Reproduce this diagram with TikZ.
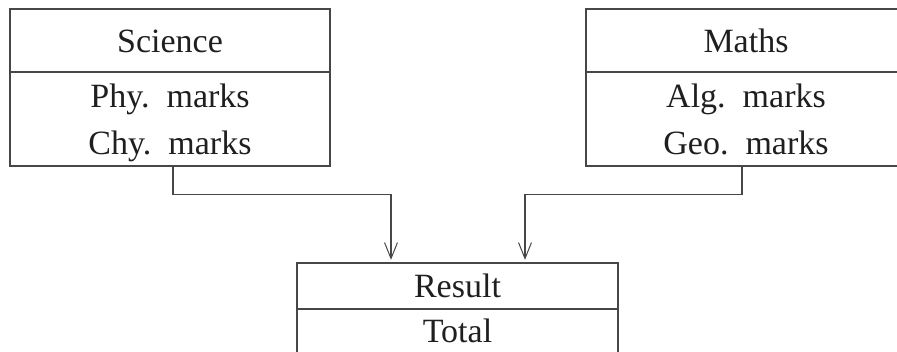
\documentclass[tikz,border=0pt]{standalone}
\usepackage{fontspec}
\setmainfont{Liberation Serif}
\usetikzlibrary{arrows.meta}
\begin{document}
\begin{tikzpicture}[x=1pt,y=1pt,
  boxline/.style={draw=black!72,line width=1.3pt},
  classbox/.style={boxline,inner sep=0pt,minimum width=320pt},
  txt/.style={inner sep=0pt,anchor=base,text=black!88,font=\fontsize{34}{40}\selectfont},
  conn/.style={draw=black!72,line width=1.2pt,shorten >=2.5pt,-{Straight Barb[length=16pt,width=13pt,line width=1pt]}}]
\useasboundingbox (0,0) rectangle (897,352);
\clip (0,0) rectangle (897,352);
% Science
\node[classbox,minimum height=157pt] (sci) at (170,264.5) {};
\draw[boxline] (10,280) -- (330,280);
\node[txt] (scit) at (170,299) {Science};
\node[txt] (phy) at (170,244) {Phy.\ \ marks};
\node[txt] (chy) at (170,197) {Chy.\ \ marks};
% Maths
\node[classbox,minimum height=157pt] (mat) at (746,264.5) {};
\draw[boxline] (586,280) -- (906,280);
\node[txt] (matt) at (746,299) {Maths};
\node[txt] (alg) at (746,244) {Alg.\ \ marks};
\node[txt] (geo) at (746,197) {Geo.\ \ marks};
% Result
\node[classbox,minimum width=321pt,minimum height=120pt] (res) at (457.5,29) {};
\draw[boxline] (297,43) -- (618,43);
\node[txt] (rest) at (457.5,54) {Result};
\node[txt] (tot) at (457.5,9) {Total};
% connectors
\draw[conn] ([xshift=3pt]sci.south) -- ++(0,-28) -| ([xshift=-66.5pt]res.north);
\draw[conn] ([xshift=-4pt]mat.south) -- ++(0,-28) -| ([xshift=67.5pt]res.north);
\end{tikzpicture}
\end{document}
